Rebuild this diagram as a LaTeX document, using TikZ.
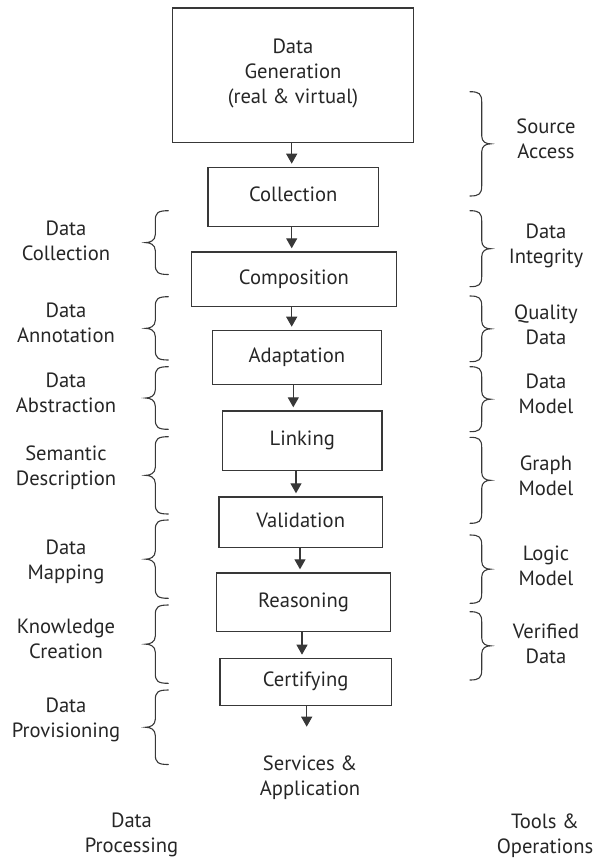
\documentclass[tikz,border=0pt]{standalone}
\usepackage{fontspec}
\setmainfont{PT Sans}
\usetikzlibrary{arrows.meta}

\tikzset{
  x=1pt, y=-1pt,
  ink/.style={draw=black!78, line width=1.2pt},
  txt/.style={text=black!85, font=\fontsize{20.6}{25}\selectfont, align=center,
    execute at begin node=\strut, execute at end node=\strut},
  stage/.style={ink, txt, rectangle, anchor=north west, inner sep=0pt},
  tag/.style={txt, inner sep=0pt},
  flow/.style={ink, -{Triangle[width=11pt,length=10pt]}, shorten >=3pt},
  curl/.style={draw=black!78, line width=1.1pt, line cap=round},
}

% "{" brace: arms end at x=168.3, spanning #1..#2 (downward y)
\newcommand\leftcurl[2]{%
  \draw[curl] (168.3,#1) .. controls (158,#1) and (155.3,{#1+2}) .. (155.3,{#1+10})
    -- (155.3,{(#1+#2)/2-8}) .. controls (155.3,{(#1+#2)/2-2}) and (150,{(#1+#2)/2}) .. (145.7,{(#1+#2)/2})
    .. controls (150,{(#1+#2)/2}) and (155.3,{(#1+#2)/2+2}) .. (155.3,{(#1+#2)/2+8})
    -- (155.3,{#2-10}) .. controls (155.3,{#2-2}) and (158,#2) .. (168.3,#2);}
% "}" brace: arms end at x=470, spanning #1..#2
\newcommand\rightcurl[2]{%
  \draw[curl] (470,#1) .. controls (479,#1) and (481.7,{#1+2}) .. (481.7,{#1+10})
    -- (481.7,{(#1+#2)/2-8}) .. controls (481.7,{(#1+#2)/2-2}) and (486,{(#1+#2)/2}) .. (490.5,{(#1+#2)/2})
    .. controls (486,{(#1+#2)/2}) and (481.7,{(#1+#2)/2+2}) .. (481.7,{(#1+#2)/2+8})
    -- (481.7,{#2-10}) .. controls (481.7,{#2-2}) and (479,#2) .. (470,#2);}

\begin{document}
\begin{tikzpicture}
\useasboundingbox (0,0) rectangle (595,860);

% processing stages
\node[stage, minimum width=240.7pt, minimum height=134.4pt] (gen)   at (172,7.3)   {Data\\Generation\\(real \& virtual)};
\node[stage, minimum width=170.7pt, minimum height=59pt]    (coll)  at (207.3,166.7) {Collection};
\node[stage, minimum width=205.3pt, minimum height=54.4pt]  (comp)  at (190.7,251.3) {Composition};
\node[stage, minimum width=168.7pt, minimum height=54.3pt]  (adapt) at (212,329.7)   {Adaptation};
\node[stage, minimum width=159.3pt, minimum height=59.7pt]  (link)  at (222,410.3)   {Linking};
\node[stage, minimum width=163.7pt, minimum height=50.7pt]  (valid) at (218.3,496.3) {Validation};
\node[stage, minimum width=174.3pt, minimum height=58.7pt]  (reas)  at (215.7,572.3) {Reasoning};
\node[stage, minimum width=171.4pt, minimum height=47pt]    (cert)  at (219.3,657.7) {Certifying};
\node[tag] (serv) at (310,779) {Services \&\\Application};

% arrow columns
\coordinate (a1) at (291.7,0);
\coordinate (a2) at (291.7,0);
\coordinate (a3) at (291.7,0);
\coordinate (a4) at (293.3,0);
\coordinate (a5) at (296,0);
\coordinate (a6) at (300,0);
\coordinate (a7) at (302,0);
\coordinate (a8end) at (306.7,729.7);

\draw[flow] (gen.south -| a1)   -- (coll.north -| a1);
\draw[flow] (coll.south -| a2)  -- (comp.north -| a2);
\draw[flow] (comp.south -| a3)  -- (adapt.north -| a3);
\draw[flow] (adapt.south -| a4) -- (link.north -| a4);
\draw[flow] (link.south -| a5)  -- (valid.north -| a5);
\draw[flow] (valid.south -| a6) -- (reas.north -| a6);
\draw[flow] (reas.south -| a7)  -- (cert.north -| a7);
\draw[flow] (cert.south -| a8end) -- (a8end);

% data processing column
\leftcurl{210.7}{274.5}
\leftcurl{296.7}{360}
\leftcurl{366.7}{429.3}
\leftcurl{436.7}{514}
\leftcurl{520}{598.3}
\leftcurl{605}{683.3}
\leftcurl{690}{764.5}
\node[tag] (dcoll) at (66,244) {Data\\Collection};
\node[tag] (dann)  at (66,326.5) {Data\\Annotation};
\node[tag] (dabs)  at (66,396.5) {Data\\Abstraction};
\node[tag] (sem)   at (66,469)   {Semantic\\Description};
\node[tag] (dmap)  at (66,563.5)   {Data\\Mapping};
\node[tag] (know)  at (66,642.5) {Knowledge\\Creation};
\node[tag] (dprov) at (66,721)   {Data\\Provisioning};
\node[tag] (dproc) at (131.5,836.5) {Data\\Processing};

% tools & operations column
\rightcurl{91.7}{196}
\rightcurl{210.7}{286.7}
\rightcurl{296}{361.7}
\rightcurl{366.7}{431.7}
\rightcurl{437.3}{523.3}
\rightcurl{535}{603.3}
\rightcurl{611.7}{680}
\node[tag] (src)   at (546,142.5) {Source\\Access};
\node[tag] (integ) at (546,247.5)   {Data\\Integrity};
\node[tag] (qual)  at (546,328.5) {Quality\\Data};
\node[tag] (dmod)  at (546,397.5)   {Data\\Model};
\node[tag] (gmod)  at (546,479)   {Graph\\Model};
\node[tag] (lmod)  at (546,569)   {Logic\\Model};
\node[tag] (ver)   at (546,647) {Verified\\Data};
\node[tag] (tools) at (545,837.5)   {Tools \&\\Operations};
\end{tikzpicture}
\end{document}
